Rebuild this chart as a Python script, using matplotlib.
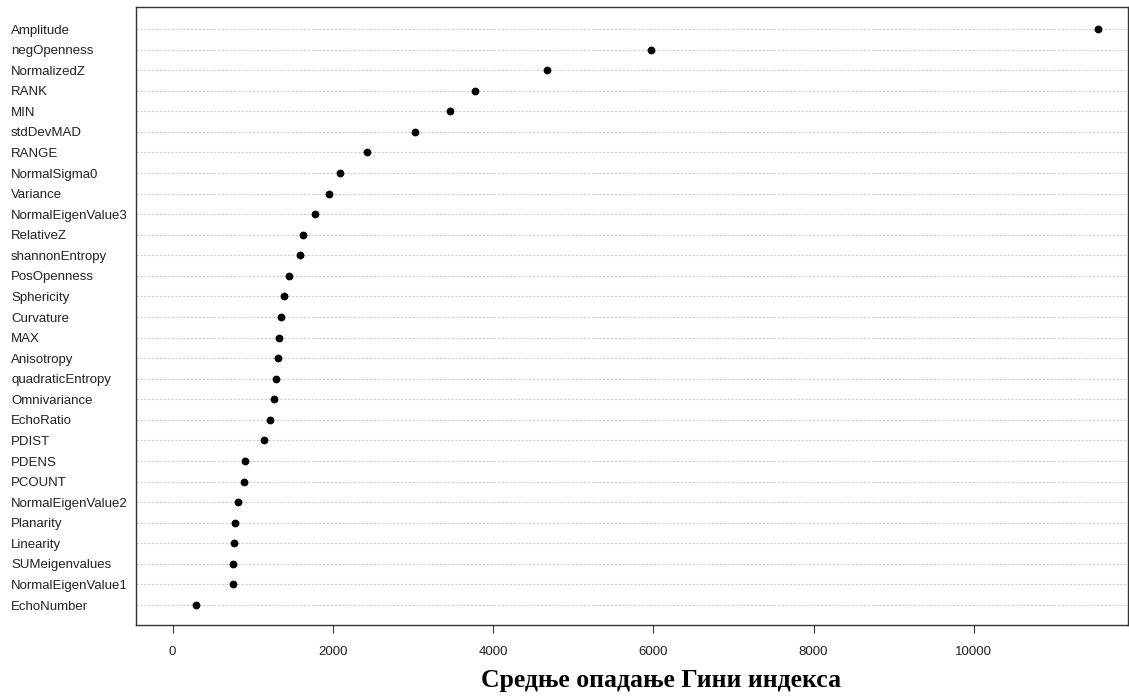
import matplotlib
matplotlib.use("Agg")
import matplotlib.pyplot as plt

features = ["Amplitude", "negOpenness", "NormalizedZ", "RANK", "MIN", "stdDevMAD",
            "RANGE", "NormalSigma0", "Variance", "NormalEigenValue3", "RelativeZ",
            "shannonEntropy", "PosOpenness", "Sphericity", "Curvature", "MAX",
            "Anisotropy", "quadraticEntropy", "Omnivariance", "EchoRatio", "PDIST",
            "PDENS", "PCOUNT", "NormalEigenValue2", "Planarity", "Linearity",
            "SUMeigenvalues", "NormalEigenValue1", "EchoNumber"]
gini = [11547, 5966, 4674, 3768, 3456, 3027,
        2424, 2091, 1946, 1772, 1622,
        1585, 1447, 1389, 1355, 1323,
        1310, 1285, 1260, 1218, 1135,
        898, 886, 811, 781, 761,
        749, 749, 291]
xticks = [0, 2000, 4000, 6000, 8000, 10000]
xlabel = "Средње опадање Гини индекса"

W, H = 1129, 697
fig = plt.figure(figsize=(W / 100, H / 100), dpi=100)
ax = fig.add_axes([136 / W, 1 - 625 / H, (1128 - 136) / W, (625 - 7) / H])

n = len(features)
ypos = [n - i for i in range(n)]

for y in ypos:
    ax.axhline(y, color="#cccccc", lw=0.8, ls=(0, (2, 1.5)), zorder=1)
ax.plot(gini, ypos, "o", color="black", ms=4.6, zorder=3, ls="none")

ax.set_xlim(-458, 11926)
ax.set_ylim(1 - 0.97, n + 1.07)

ax.set_yticks(ypos)
ax.set_yticklabels(features, fontsize=9.5, family="Liberation Sans", color="#222222")
for lab in ax.get_yticklabels():
    lab.set_horizontalalignment("left")
ax.tick_params(axis="y", length=0, pad=125 * 72 / 100)

ax.set_xticks(xticks)
ax.set_xticklabels([str(t) for t in xticks], fontsize=9.5, family="Liberation Sans", color="#222222")
ax.tick_params(axis="x", length=6, width=0.8, color="#333333", pad=9)

for s in ax.spines.values():
    s.set_color("#333333")
    s.set_linewidth(1.0)

fig.text(661 / W, 1 - 681 / H, xlabel, ha="center", va="center",
         fontsize=18.5, fontweight="bold", family="Liberation Serif", color="black")

fig.savefig("out.png", dpi=100)
